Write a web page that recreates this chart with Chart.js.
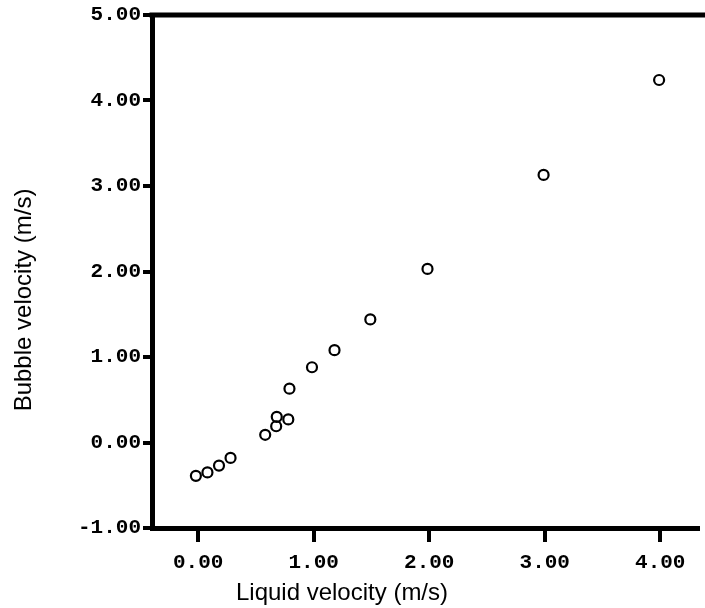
<!DOCTYPE html>
<html>
<head>
<meta charset="utf-8">
<script src="https://cdn.jsdelivr.net/npm/chart.js@4/dist/chart.umd.min.js"></script>
<style>
  html, body { margin: 0; padding: 0; background: #fff; overflow: hidden; }
  #wrap { width: 705px; height: 608px; }
</style>
</head>
<body>
<div id="wrap"><canvas id="c" width="705" height="608"></canvas></div>
<script>
// Data
const liquidVelocity = [-0.02, 0.08, 0.18, 0.28, 0.58, 0.675, 0.68, 0.78, 0.79, 0.985, 1.18, 1.49, 1.985, 2.99, 3.99];
const bubbleVelocity = [-0.39, -0.35, -0.27, -0.18, 0.09, 0.19, 0.30, 0.27, 0.63, 0.88, 1.08, 1.44, 2.03, 3.13, 4.24];
const xTickValues = [0, 1, 2, 3, 4];
const yTickValues = [-1, 0, 1, 2, 3, 4, 5];
const xTitle = 'Liquid velocity (m/s)';
const yTitle = 'Bubble velocity (m/s)';

const points = liquidVelocity.map((x, i) => ({ x: x, y: bubbleVelocity[i] }));

const tickFont = { family: "'Liberation Mono', 'DejaVu Sans Mono', monospace", weight: 'bold', size: 21 };
const titleFontCss = "24px 'Liberation Sans', Arial, sans-serif";

// Frame top line + axis titles (titles sit off-centre in the reference)
const frameAndTitles = {
  id: 'frameAndTitles',
  afterDraw(chart) {
    const { ctx, chartArea } = chart;
    ctx.save();
    ctx.strokeStyle = '#000';
    ctx.lineWidth = 5;
    ctx.beginPath();
    ctx.moveTo(chartArea.left - 2.5, chartArea.top);
    ctx.lineTo(chart.width, chartArea.top);
    ctx.stroke();

    ctx.fillStyle = '#000';
    ctx.font = titleFontCss;
    ctx.textAlign = 'center';
    ctx.textBaseline = 'middle';
    ctx.fillText(xTitle, 342, 593);

    ctx.translate(24, 300);
    ctx.rotate(-Math.PI / 2);
    ctx.fillText(yTitle, 0, 0);
    ctx.restore();
  }
};

new Chart(document.getElementById('c'), {
  type: 'scatter',
  data: {
    datasets: [{
      data: points,
      pointStyle: 'circle',
      pointRadius: 5,
      pointBorderWidth: 2.2,
      pointBorderColor: '#000',
      pointBackgroundColor: 'rgba(255,255,255,0)',
      showLine: false
    }]
  },
  options: {
    responsive: false,
    animation: false,
    layout: { padding: { top: 15, right: 0, left: 0, bottom: 0 } },
    plugins: { legend: { display: false }, tooltip: { enabled: false } },
    scales: {
      x: {
        type: 'linear',
        min: -0.4,
        max: 4.325,
        afterBuildTicks(scale) { scale.ticks = xTickValues.map(v => ({ value: v })); },
        afterFit(scale) { scale.height = 80; },
        border: { display: true, color: '#000', width: 5 },
        grid: { display: true, drawOnChartArea: false, drawTicks: true, tickLength: 14, lineWidth: 4, color: '#000' },
        ticks: {
          color: '#000',
          font: tickFont,
          padding: 8,
          maxRotation: 0,
          callback: v => Number(v).toFixed(2)
        },
        title: { display: false }
      },
      y: {
        type: 'linear',
        min: -1,
        max: 5,
        afterBuildTicks(scale) { scale.ticks = yTickValues.map(v => ({ value: v })); },
        afterFit(scale) { scale.width = 152; },
        border: { display: true, color: '#000', width: 5 },
        grid: { display: true, drawOnChartArea: false, drawTicks: true, tickLength: 9, lineWidth: 4, color: '#000' },
        ticks: {
          color: '#000',
          font: tickFont,
          padding: 2,
          callback: v => Number(v).toFixed(2)
        },
        title: { display: false }
      }
    }
  },
  plugins: [frameAndTitles]
});
</script>
</body>
</html>
